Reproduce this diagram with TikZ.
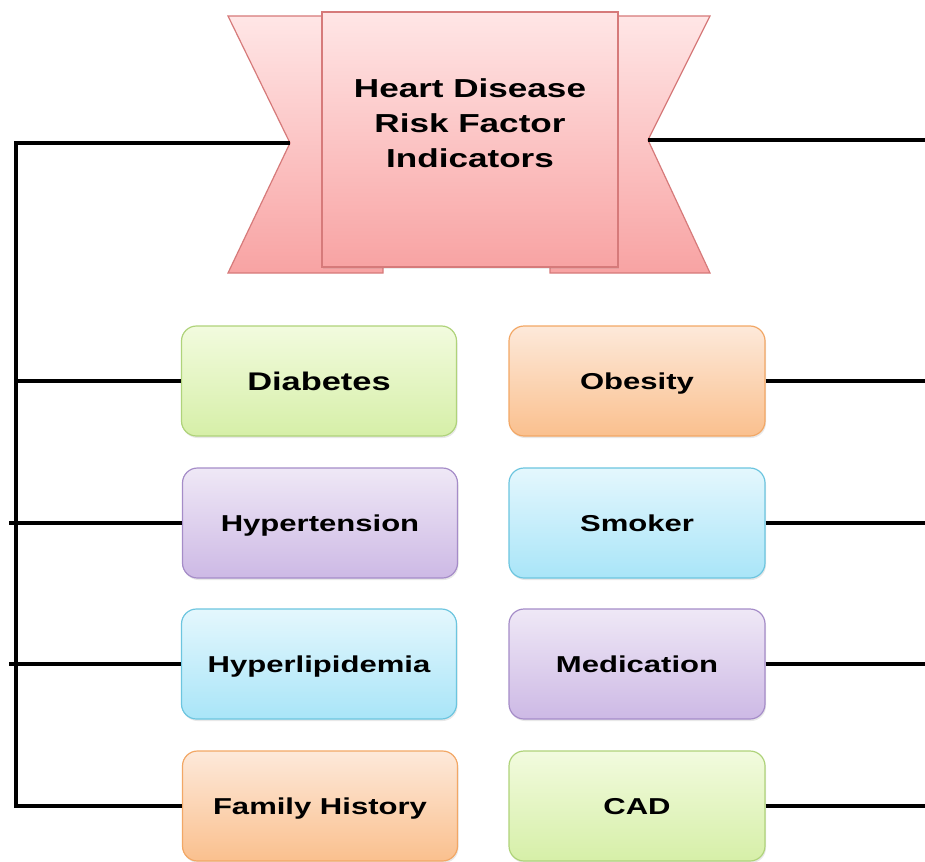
\documentclass[tikz,border=0pt]{standalone}
\usepackage{fontspec}
\newfontfamily\wfont{Liberation Sans}[FakeStretch=1.35]
\usetikzlibrary{shadows}
\definecolor{gT}{HTML}{F2FBDE}\definecolor{gB}{HTML}{D6EFA8}\definecolor{gD}{HTML}{AFD37A}
\definecolor{oT}{HTML}{FDE9DA}\definecolor{oB}{HTML}{FAC08E}\definecolor{oD}{HTML}{F2A765}
\definecolor{pT}{HTML}{EFE8F6}\definecolor{pB}{HTML}{CDB9E5}\definecolor{pD}{HTML}{A58CC8}
\definecolor{bT}{HTML}{E4F7FD}\definecolor{bB}{HTML}{A9E5F8}\definecolor{bD}{HTML}{6CC5DF}
\definecolor{rT}{HTML}{FFE6E6}\definecolor{rB}{HTML}{F8A3A3}\definecolor{rD}{HTML}{D67A7A}
\tikzset{
  item/.style={rounded corners=15pt, line width=1.2pt, minimum height=110pt,
    font=\wfont\bfseries\fontsize{23}{27}\selectfont, text=black,
    text height=16.5pt, text depth=0pt,
    drop shadow={opacity=0.18, shadow xshift=1pt, shadow yshift=-2pt}},
  lbox/.style={item, minimum width=275pt},
  rbox/.style={item, minimum width=256pt},
  big/.style={font=\wfont\bfseries\fontsize{25.5}{30}\selectfont, text height=18pt},
  green/.style={draw=gD, top color=gT, bottom color=gB},
  orange/.style={draw=oD, top color=oT, bottom color=oB},
  purple/.style={draw=pD, top color=pT, bottom color=pB},
  blue/.style={draw=bD, top color=bT, bottom color=bB},
  ribbon/.style={draw=rD, line width=1.2pt, top color=rT, bottom color=rB},
  conn/.style={line width=3.4pt, black, line cap=butt}
}
\begin{document}
\begin{tikzpicture}[x=1pt,y=-1pt]
\useasboundingbox (0,0) rectangle (925,861);
% banner back ribbons
\draw[ribbon] (228,16) -- (383,16) -- (383,273) -- (228,273) -- (290,143) -- cycle;
\draw[ribbon] (710,16) -- (550,16) -- (550,273) -- (710,273) -- (648,140) -- cycle;
\coordinate (lnotch) at (290,143);
\coordinate (rnotch) at (648,140);
% banner front
\node[ribbon, minimum width=296pt, minimum height=255pt, inner sep=0pt,
  drop shadow={opacity=0.15, shadow xshift=1pt, shadow yshift=-2pt}] (title) at (470,139.5) {};
\node[font=\wfont\bfseries\fontsize{26}{35}\selectfont, align=center, inner sep=0pt] (titletext) at (470,123)
  {Heart Disease\\Risk Factor\\Indicators};
% boxes
\node[lbox, green, big] (diab) at (319,381) {Diabetes};
\node[lbox, purple] (hyt)  at (320,523) {Hypertension};
\node[lbox, blue]   (hyl)  at (319,664) {Hyperlipidemia};
\node[lbox, orange] (fam)  at (320,806) {Family History};
\node[rbox, orange] (obe)  at (637,381) {Obesity};
\node[rbox, blue]   (smo)  at (637,523) {Smoker};
\node[rbox, purple] (med)  at (637,664) {Medication};
\node[rbox, green]  (cad)  at (637,806) {CAD};
% connector coordinates
\coordinate (ltop) at (16,143);
\coordinate (lbot) at (16,806);
\coordinate (lhyt) at (9,523);
\coordinate (lhyl) at (9,664);
\coordinate (rtop) at (925,140);
\coordinate (robe) at (925,381);
\coordinate (rsmo) at (925,523);
\coordinate (rmed) at (925,664);
\coordinate (rcad) at (925,806);
% left connectors
\draw[conn, line join=miter] (lnotch) -- (ltop) -- (lbot) -- (fam.west);
\draw[conn] (diab.west) -- (diab.west -| ltop);
\draw[conn] (hyt.west) -- (lhyt);
\draw[conn] (hyl.west) -- (lhyl);
% right connectors
\draw[conn] (rnotch) -- (rtop);
\draw[conn] (obe.east) -- (robe);
\draw[conn] (smo.east) -- (rsmo);
\draw[conn] (med.east) -- (rmed);
\draw[conn] (cad.east) -- (rcad);
\end{tikzpicture}
\end{document}
